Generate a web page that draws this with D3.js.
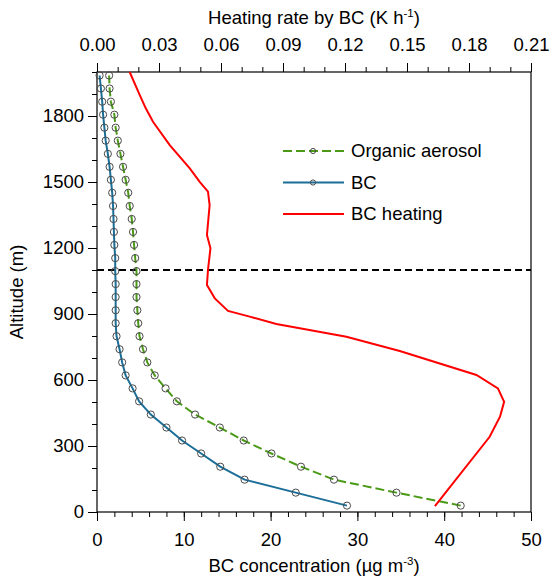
<!DOCTYPE html>
<html>
<head>
<meta charset="utf-8">
<script src="https://cdn.jsdelivr.net/npm/d3@7"></script>
<style>
  body { margin: 0; background: #fff; }
  text { font-family: "Liberation Sans", Arial, Helvetica, sans-serif; fill: #000; }
</style>
</head>
<body>
<div id="chart"></div>
<script>
// Model levels (m) shared by BC and organic aerosol profiles
const altitudes = [29, 88, 147, 206, 266, 325, 384, 443, 503, 562, 621, 680, 740, 799,
    858, 917, 977, 1036, 1095, 1154, 1214, 1273, 1332, 1391, 1451, 1510, 1569, 1628,
    1688, 1747, 1806, 1865, 1925, 1984];

// BC concentration (ug m-3)
const bcValues = [28.8, 22.9, 17.0, 14.2, 12.0, 9.8, 8.0, 6.2, 4.85, 4.1, 3.3, 2.9, 2.6,
    2.25, 2.15, 2.15, 2.15, 2.15, 2.1, 2.1, 2.0, 1.95, 1.9, 1.85, 1.75, 1.6, 1.45, 1.25,
    1.0, 0.85, 0.7, 0.6, 0.45, 0.3];

// Organic aerosol concentration (ug m-3)
const oaValues = [41.9, 34.5, 27.3, 23.5, 20.1, 16.9, 14.15, 11.3, 9.2, 7.9, 6.65, 5.8,
    5.3, 4.9, 4.75, 4.65, 4.55, 4.55, 4.55, 4.4, 4.27, 4.15, 4.0, 3.77, 3.6, 3.3, 3.0,
    2.7, 2.4, 2.15, 2.0, 1.6, 1.45, 1.4];

// BC heating rate (K h-1) profile
const heatAltitudes = [27, 342, 433, 501, 562, 623, 732, 797, 855, 888, 914, 971, 1032,
    1100, 1199, 1259, 1395, 1456, 1501, 1562, 1668, 1774, 1835, 1895, 2000];
const heatValues = [0.1635, 0.190, 0.195, 0.197, 0.194, 0.1836, 0.1465, 0.1207, 0.0868,
    0.0739, 0.0634, 0.057, 0.0532, 0.0537, 0.0549, 0.0532, 0.0545, 0.0537, 0.0497,
    0.0449, 0.0352, 0.0271, 0.0236, 0.0207, 0.0158];

const boundaryLayer = 1100;

const bottomTicks = [0, 10, 20, 30, 40, 50];
const topTicks = [0, 0.03, 0.06, 0.09, 0.12, 0.15, 0.18, 0.21];
const leftTicks = [0, 300, 600, 900, 1200, 1500, 1800];

const legendItems = [
    { label: 'Organic aerosol', color: '#4a9a17', dash: '9,4', marker: true },
    { label: 'BC', color: '#1b6e98', dash: null, marker: true },
    { label: 'BC heating', color: '#ff0000', dash: null, marker: false }
];

const width = 552, height = 579;
const margin = { top: 72, right: 21, bottom: 67, left: 97 };

const svg = d3.select('#chart').append('svg')
    .attr('width', width)
    .attr('height', height);

const x = d3.scaleLinear().domain([0, 50]).range([margin.left, width - margin.right]);
const xTop = d3.scaleLinear().domain([0, 0.21]).range([margin.left, width - margin.right]);
const y = d3.scaleLinear().domain([0, 2000]).range([height - margin.bottom, margin.top]);

const fontSize = '18.5px';

// Axes with minor ticks
function styleAxis(g) {
    g.select('.domain').remove();
    g.selectAll('line').attr('stroke', '#000').attr('stroke-width', 1);
    g.selectAll('text').style('font-size', fontSize);
}

svg.append('g')
    .attr('transform', `translate(0,${height - margin.bottom})`)
    .call(d3.axisBottom(x).tickValues(d3.range(0, 51, 2)).tickSize(5).tickFormat(''))
    .call(styleAxis);
svg.append('g')
    .attr('transform', `translate(0,${height - margin.bottom})`)
    .call(d3.axisBottom(x).tickValues(bottomTicks).tickSize(9).tickPadding(12).tickFormat(d3.format('d')))
    .call(styleAxis);

svg.append('g')
    .attr('transform', `translate(0,${margin.top})`)
    .call(d3.axisTop(xTop).tickValues(d3.range(0, 22).map(d => d / 100)).tickSize(5).tickFormat(''))
    .call(styleAxis);
svg.append('g')
    .attr('transform', `translate(0,${margin.top})`)
    .call(d3.axisTop(xTop).tickValues(topTicks).tickSize(9).tickPadding(12).tickFormat(d3.format('.2f')))
    .call(styleAxis);

svg.append('g')
    .attr('transform', `translate(${margin.left},0)`)
    .call(d3.axisLeft(y).tickValues(d3.range(0, 2001, 100)).tickSize(5).tickFormat(''))
    .call(styleAxis);
svg.append('g')
    .attr('transform', `translate(${margin.left},0)`)
    .call(d3.axisLeft(y).tickValues(leftTicks).tickSize(9).tickPadding(4).tickFormat(d3.format('d')))
    .call(styleAxis);

// Frame
svg.append('rect')
    .attr('x', margin.left)
    .attr('y', margin.top)
    .attr('width', width - margin.left - margin.right)
    .attr('height', height - margin.top - margin.bottom)
    .attr('fill', 'none')
    .attr('stroke', '#000')
    .attr('stroke-width', 1.2);

// Boundary layer top
svg.append('line')
    .attr('x1', margin.left).attr('x2', width - margin.right)
    .attr('y1', y(boundaryLayer)).attr('y2', y(boundaryLayer))
    .attr('stroke', '#000')
    .attr('stroke-width', 2)
    .attr('stroke-dasharray', '7,4');

const profile = d3.line().x(d => d[0]).y(d => d[1]);

const oaPts = oaValues.map((v, i) => [x(v), y(altitudes[i])]);
const bcPts = bcValues.map((v, i) => [x(v), y(altitudes[i])]);
const heatPts = heatValues.map((v, i) => [xTop(v), y(heatAltitudes[i])]);

svg.append('path')
    .attr('d', profile(oaPts))
    .attr('fill', 'none')
    .attr('stroke', legendItems[0].color)
    .attr('stroke-width', 2)
    .attr('stroke-dasharray', legendItems[0].dash);

svg.append('path')
    .attr('d', profile(bcPts))
    .attr('fill', 'none')
    .attr('stroke', legendItems[1].color)
    .attr('stroke-width', 2);

svg.append('path')
    .attr('d', profile(heatPts))
    .attr('fill', 'none')
    .attr('stroke', legendItems[2].color)
    .attr('stroke-width', 2);

// Hollow circle markers
[oaPts, bcPts].forEach(pts => {
    svg.append('g').selectAll('circle')
        .data(pts)
        .enter().append('circle')
        .attr('cx', d => d[0])
        .attr('cy', d => d[1])
        .attr('r', 3.6)
        .attr('fill', 'none')
        .attr('stroke', '#4a4a4a')
        .attr('stroke-width', 1);
});

// Legend
const legend = svg.append('g').attr('transform', 'translate(283,151)');
legendItems.forEach((item, i) => {
    const row = legend.append('g').attr('transform', `translate(0,${i * 31.5})`);
    row.append('line')
        .attr('x1', 0).attr('x2', 61)
        .attr('stroke', item.color)
        .attr('stroke-width', 2)
        .attr('stroke-dasharray', item.dash);
    if (item.marker) {
        row.append('circle')
            .attr('cx', 30).attr('r', 2.6)
            .attr('fill', 'none')
            .attr('stroke', '#4a4a4a')
            .attr('stroke-width', 1);
    }
    row.append('text')
        .attr('x', 68)
        .attr('dy', '0.35em')
        .style('font-size', fontSize)
        .text(item.label);
});

// Axis titles
const topTitle = svg.append('text')
    .attr('x', (margin.left + width - margin.right) / 2)
    .attr('y', 24)
    .attr('text-anchor', 'middle')
    .style('font-size', fontSize);
topTitle.append('tspan').text('Heating rate by BC (K h');
topTitle.append('tspan').attr('dy', -7).style('font-size', '11.5px').text('-1');
topTitle.append('tspan').attr('dy', 7).text(')');

const bottomTitle = svg.append('text')
    .attr('x', (margin.left + width - margin.right) / 2)
    .attr('y', 572)
    .attr('text-anchor', 'middle')
    .style('font-size', fontSize);
bottomTitle.append('tspan').text('BC concentration (µg m');
bottomTitle.append('tspan').attr('dy', -7).style('font-size', '11.5px').text('-3');
bottomTitle.append('tspan').attr('dy', 7).text(')');

svg.append('text')
    .attr('transform', `translate(23,${(margin.top + height - margin.bottom) / 2}) rotate(-90)`)
    .attr('text-anchor', 'middle')
    .style('font-size', fontSize)
    .text('Altitude (m)');
</script>
</body>
</html>
